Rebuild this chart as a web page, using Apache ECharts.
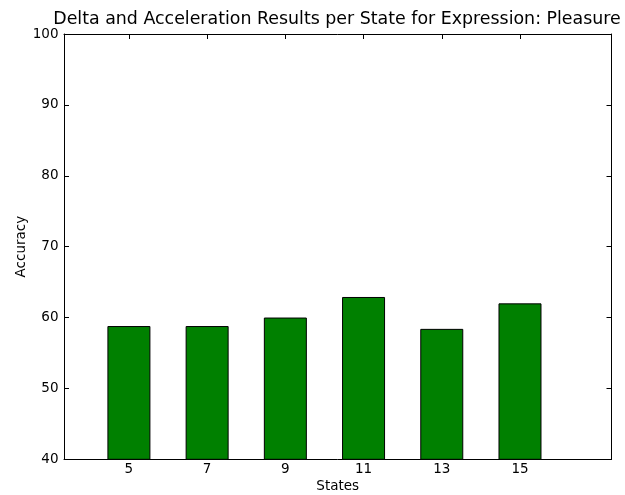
<!DOCTYPE html>
<html>
<head>
<meta charset="utf-8">
<script src="https://cdn.jsdelivr.net/npm/echarts@6/dist/echarts.min.js"></script>
<style>
html,body{margin:0;padding:0;background:#fff;}
#c{width:625px;height:495px;}
</style>
</head>
<body>
<div id="c"></div>
<script>
var categories = ['5', '7', '9', '11', '13', '15'];
var accuracy = [58.8, 58.8, 60.0, 62.9, 58.4, 62.0];
var yTicks = [40, 50, 60, 70, 80, 90, 100];
var titleText = 'Delta and Acceleration Results per State for Expression: Pleasure';

var positions = categories.map(function (c, i) { return i; });
var barData = accuracy.map(function (v, i) { return [positions[i], v]; });

var font = 'DejaVu Sans';
var chart = echarts.init(document.getElementById('c'), null, {renderer: 'canvas'});
chart.setOption({
  animation: false,
  backgroundColor: '#ffffff',
  graphic: [{
    type: 'text', x: 337, y: 11,
    style: {text: titleText, fontFamily: font, fontSize: 17.4, fill: '#000',
      textAlign: 'center', textVerticalAlign: 'top'}
  }],
  grid: {left: 64, top: 34, right: 13.5, bottom: 35.7, containLabel: false, outerBoundsMode: 'none'},
  xAxis: [{
    type: 'value', min: -0.83, max: 6.17, position: 'bottom',
    name: 'States', nameLocation: 'middle', nameGap: 20, nameMoveOverlap: false,
    nameTextStyle: {fontFamily: font, fontSize: 13.5, color: '#000'},
    axisLine: {show: true, onZero: false, lineStyle: {color: '#000', width: 1}},
    axisTick: {show: true, inside: true, length: 5, customValues: positions, lineStyle: {color: '#000'}},
    axisLabel: {show: true, customValues: positions, margin: 3, fontFamily: font, fontSize: 13.5, color: '#000',
      formatter: function (v) { return categories[Math.round(v)]; }},
    splitLine: {show: false}
  }, {
    type: 'value', min: -0.83, max: 6.17, position: 'top',
    axisLine: {show: true, onZero: false, lineStyle: {color: '#000', width: 1}},
    axisTick: {show: true, inside: true, length: 5, customValues: positions, lineStyle: {color: '#000'}},
    axisLabel: {show: false},
    splitLine: {show: false}
  }],
  yAxis: [{
    type: 'value', min: 40, max: 100, interval: 10, position: 'left',
    name: 'Accuracy', nameLocation: 'middle', nameGap: 36, nameRotate: 90, nameMoveOverlap: false,
    nameTextStyle: {fontFamily: font, fontSize: 13.5, color: '#000'},
    axisLine: {show: true, onZero: false, lineStyle: {color: '#000', width: 1}},
    axisTick: {show: true, inside: true, length: 5, lineStyle: {color: '#000'}},
    axisLabel: {show: true, margin: 5.5, fontFamily: font, fontSize: 13.5, color: '#000',
      customValues: yTicks},
    splitLine: {show: false}
  }, {
    type: 'value', min: 40, max: 100, interval: 10, position: 'right',
    axisLine: {show: true, onZero: false, lineStyle: {color: '#000', width: 1}},
    axisTick: {show: true, inside: true, length: 5, lineStyle: {color: '#000'}},
    axisLabel: {show: false},
    splitLine: {show: false}
  }],
  series: [{
    type: 'bar',
    xAxisIndex: 0, yAxisIndex: 0,
    data: barData,
    barWidth: 43,
    itemStyle: {color: '#008000', borderColor: '#000', borderWidth: 1}
  }]
});
</script>
</body>
</html>
